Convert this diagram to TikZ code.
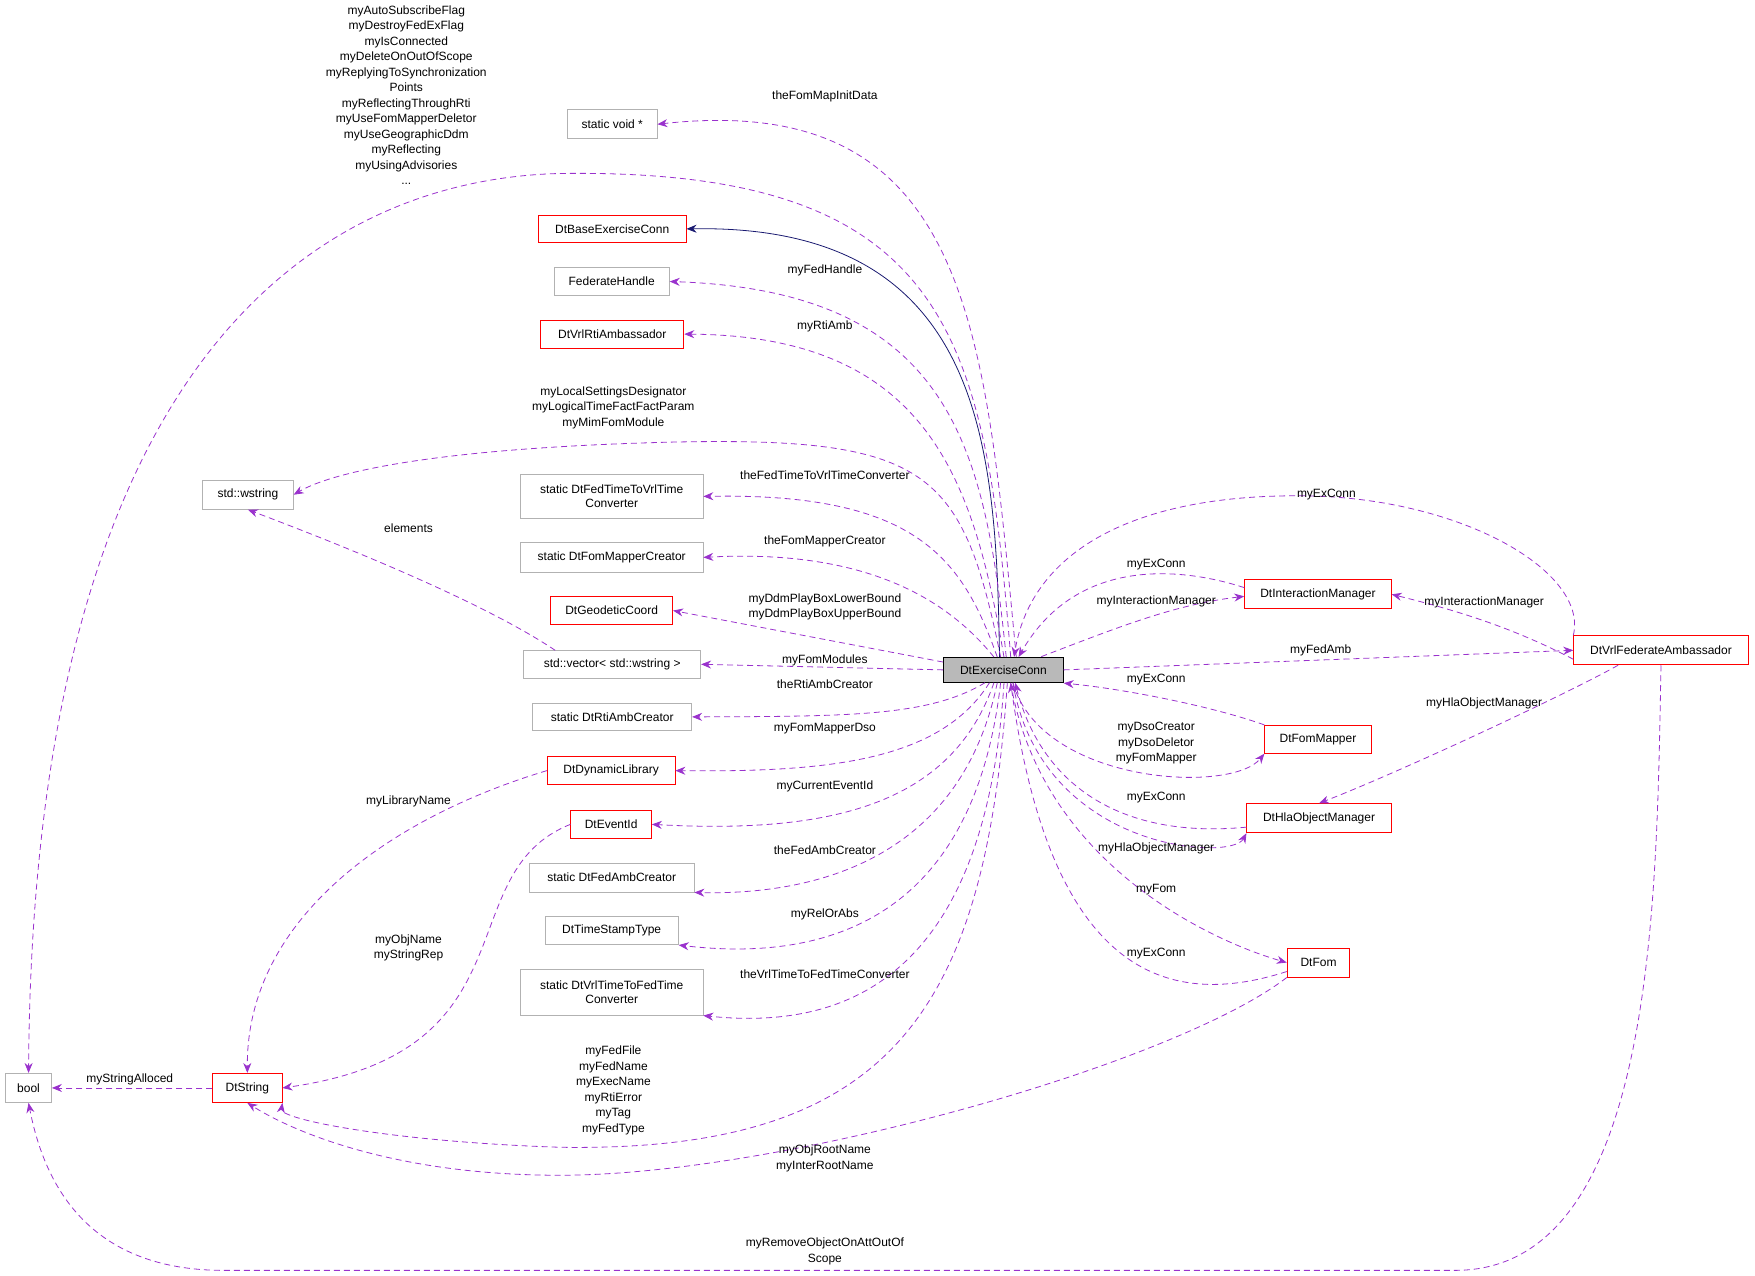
\documentclass[tikz,border=0pt]{standalone}
\usepackage{fontspec}
\setmainfont{Liberation Sans}
\usetikzlibrary{arrows.meta}
\definecolor{ep}{HTML}{9A32CD}
\definecolor{nv}{HTML}{191970}
\begin{document}
\begin{tikzpicture}[x=1.1193pt,y=-1.1193pt,font=\fontsize{12}{14.5}\selectfont,
 bx/.style={draw,inner sep=0pt,align=center,line width=0.8pt},
 gb/.style={bx,draw=gray!60},
 rb/.style={bx,draw=red},
 e/.style={draw=ep,dashed,dash pattern=on 6pt off 4pt,line width=0.8pt,-{Stealth[length=10pt,width=8pt]}},
 lb/.style={align=center,inner sep=0pt,font=\fontsize{12}{15.5}\selectfont}]
\useasboundingbox (0,0) rectangle (1568,1140);
\newcommand\nd[7]{\node[#6,minimum width={(#4-#2)*1.1193pt},minimum height={(#5-#3)*1.1193pt}] (#1) at ({(#2+#4)/2},{(#3+#5)/2}) {#7};}
\nd{c}{843}{587}{950}{610}{bx,fill=gray!55}{DtExerciseConn}
\nd{sv}{507}{98}{587}{124}{gb}{static void *}
\nd{be}{481}{192}{613}{217}{rb}{DtBaseExerciseConn}
\nd{fh}{495}{239}{598}{264}{gb}{FederateHandle}
\nd{ra}{483}{286}{611}{311}{rb}{DtVrlRtiAmbassador}
\nd{ws}{181}{429}{262}{455}{gb}{std::wstring}
\nd{ft}{465}{424}{628}{463}{gb}{static DtFedTimeToVrlTime\\Converter}
\nd{fm}{465}{485}{628}{511}{gb}{static DtFomMapperCreator}
\nd{gc}{492}{533}{601}{558}{rb}{DtGeodeticCoord}
\nd{sv2}{468}{581}{626}{606}{gb}{std::vector< std::wstring >}
\nd{rc}{476}{628}{618}{653}{gb}{static DtRtiAmbCreator}
\nd{dl}{489}{676}{603}{701}{rb}{DtDynamicLibrary}
\nd{ei}{510}{724}{582}{749}{rb}{DtEventId}
\nd{fa}{473}{771}{620}{797}{gb}{static DtFedAmbCreator}
\nd{ts}{487}{819}{606}{844}{gb}{DtTimeStampType}
\nd{vt}{465}{866}{628}{907}{gb}{static DtVrlTimeToFedTime\\Converter}
\nd{bo}{5}{959}{46}{985}{gb}{bool}
\nd{ds}{190}{959}{252}{985}{rb}{DtString}
\nd{im}{1112}{518}{1243}{544}{rb}{DtInteractionManager}
\nd{va}{1406}{568}{1562}{594}{rb}{DtVrlFederateAmbassador}
\nd{mp}{1130}{648}{1225}{673}{rb}{DtFomMapper}
\nd{ho}{1114}{718}{1243}{744}{rb}{DtHlaObjectManager}
\nd{fo}{1150}{847}{1206}{873}{rb}{DtFom}
% inheritance
\draw[nv,line width=0.8pt,-{Stealth[length=10pt,width=8pt]}] (893,587) .. controls (890,400) and (880,200) .. (be.east);
% members of DtExerciseConn
\draw[e] (908,587) .. controls (880,300) and (870,80) .. (sv.east);
\draw[e] (903,587) .. controls (880,300) and (850,150) .. (500,155) .. controls (300,160) and (30,300) .. (bo.north);
\draw[e] (899,587) .. controls (880,400) and (850,260) .. (fh.east);
\draw[e] (897,587) .. controls (870,430) and (830,300) .. (ra.east);
\draw[e] (894,587) .. controls (860,420) and (830,390) .. (600,395) .. controls (400,400) and (300,420) .. (ws.east);
\draw[e] (891,587) .. controls (860,500) and (820,440) .. (ft.east);
\draw[e] (888,587) .. controls (850,540) and (780,490) .. (fm.east);
\draw[e] (c.west) ++(0,-7) -- (gc.east);
\draw[e] (c.west) -- (sv2.east);
\draw[e] (880,610) .. controls (830,640) and (760,640) .. (rc.east);
\draw[e] (884,610) .. controls (840,680) and (740,690) .. (dl.east);
\draw[e] (888,610) .. controls (850,720) and (740,745) .. (ei.east);
\draw[e] (891,610) .. controls (860,760) and (740,800) .. (fa.south east);
\draw[e] (894,610) .. controls (870,820) and (740,860) .. (ts.south east);
\draw[e] (897,610) .. controls (880,880) and (750,920) .. (vt.south east);
\draw[e] (900,610) .. controls (880,900) and (800,1030) .. (500,1025) .. controls (350,1020) and (250,1000) .. (ds.south east);
% inner
\draw[e] (496,581) .. controls (420,530) and (260,470) .. (ws.south);
\draw[e] (dl.west) .. controls (350,730) and (220,820) .. (ds.north);
\draw[e] (ei.west) .. controls (400,780) and (480,940) .. (ds.east);
\draw[e] (ds.west) -- (bo.east);
\draw[e] (fo.south west) .. controls (1050,950) and (700,1050) .. (500,1050) .. controls (350,1050) and (260,1010) .. (ds.south);
\draw[e] (va.south) .. controls (1480,800) and (1480,1135) .. (1300,1135) -- (200,1135) .. controls (80,1135) and (40,1060) .. (bo.south);
% right side
\draw[e] (va.north west) .. controls (1420,510) and (1300,440) .. (1150,443) .. controls (1000,445) and (920,500) .. (906,587);
\draw[e] (im.west) ++(0,-6) .. controls (1050,505) and (960,500) .. (910,587);
\draw[e] (c.north east) ++(-20,0) .. controls (1000,560) and (1050,540) .. ([yshift=-2pt]im.west);
\draw[e] (va.west) ++(0,8) .. controls (1350,560) and (1300,545) .. (im.east);
\draw[e] (c.east) -- (va.west);
\draw[e] (mp.north west) .. controls (1080,630) and (1000,615) .. (c.south east);
\draw[e] (905,610) .. controls (930,700) and (1100,710) .. (mp.south west);
\draw[e] (va.south west) ++(40,0) .. controls (1400,620) and (1250,690) .. (ho.north);
\draw[e] (ho.west) ++(0,8) .. controls (1000,750) and (930,700) .. (907,610);
\draw[e] (905,610) .. controls (930,760) and (1100,770) .. (ho.south west);
\draw[e] (903,610) .. controls (930,770) and (1080,840) .. (fo.west);
\draw[e] (fo.west) ++(0,8) .. controls (1050,900) and (940,880) .. (903,610);
% labels
\node[lb] at (737,86) {theFomMapInitData};
\node[lb,anchor=north] at (363,5) {myAutoSubscribeFlag\\myDestroyFedExFlag\\myIsConnected\\myDeleteOnOutOfScope\\myReplyingToSynchronization\\Points\\myReflectingThroughRti\\myUseFomMapperDeletor\\myUseGeographicDdm\\myReflecting\\myUsingAdvisories\\...};
\node[lb] at (737,242) {myFedHandle};
\node[lb] at (737,292) {myRtiAmb};
\node[lb] at (548,364) {myLocalSettingsDesignator\\myLogicalTimeFactFactParam\\myMimFomModule};
\node[lb] at (737,425) {theFedTimeToVrlTimeConverter};
\node[lb] at (737,484) {theFomMapperCreator};
\node[lb] at (737,542) {myDdmPlayBoxLowerBound\\myDdmPlayBoxUpperBound};
\node[lb] at (737,590) {myFomModules};
\node[lb] at (737,611) {theRtiAmbCreator};
\node[lb] at (737,651) {myFomMapperDso};
\node[lb] at (737,703) {myCurrentEventId};
\node[lb] at (737,760) {theFedAmbCreator};
\node[lb] at (737,817) {myRelOrAbs};
\node[lb] at (737,870) {theVrlTimeToFedTimeConverter};
\node[lb] at (548,974) {myFedFile\\myFedName\\myExecName\\myRtiError\\myTag\\myFedType};
\node[lb] at (365,472) {elements};
\node[lb] at (365,716) {myLibraryName};
\node[lb] at (365,847) {myObjName\\myStringRep};
\node[lb] at (116,964) {myStringAlloced};
\node[lb] at (737,1035) {myObjRootName\\myInterRootName};
\node[lb] at (737,1118) {myRemoveObjectOnAttOutOf\\Scope};
\node[lb] at (1185,442) {myExConn};
\node[lb] at (1033,504) {myExConn};
\node[lb] at (1033,537) {myInteractionManager};
\node[lb] at (1326,538) {myInteractionManager};
\node[lb] at (1180,581) {myFedAmb};
\node[lb] at (1033,607) {myExConn};
\node[lb] at (1033,664) {myDsoCreator\\myDsoDeletor\\myFomMapper};
\node[lb] at (1326,628) {myHlaObjectManager};
\node[lb] at (1033,713) {myExConn};
\node[lb] at (1033,758) {myHlaObjectManager};
\node[lb] at (1033,795) {myFom};
\node[lb] at (1033,852) {myExConn};
\end{tikzpicture}
\end{document}
